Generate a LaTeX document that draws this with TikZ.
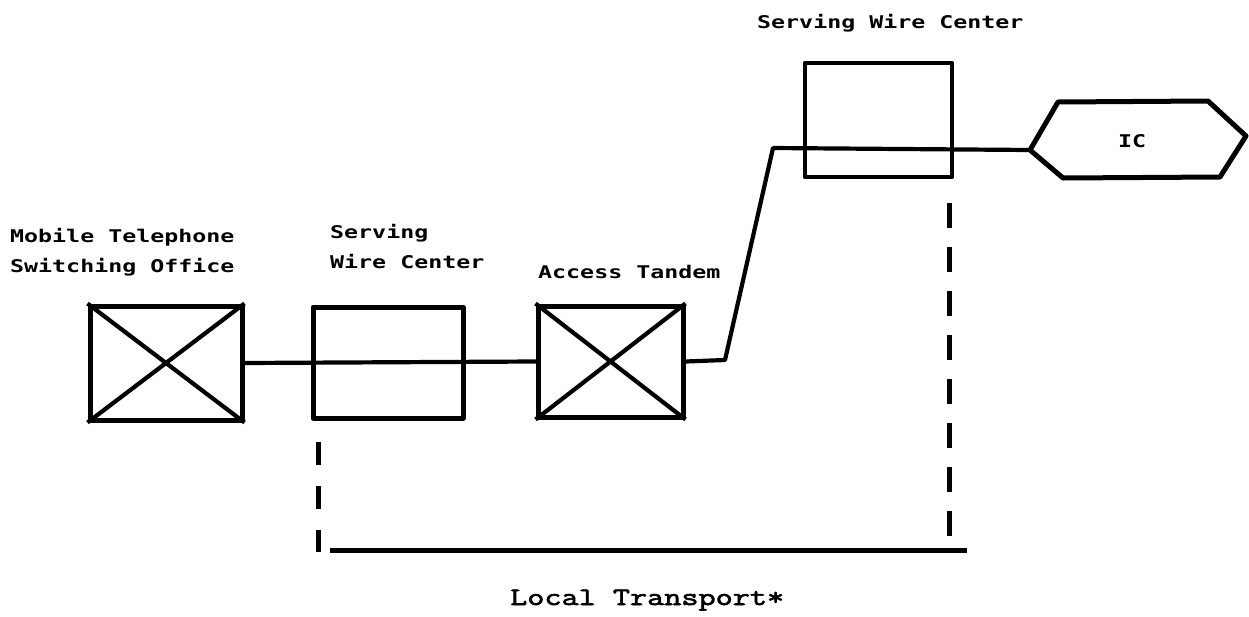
\documentclass[tikz,border=0pt]{standalone}
\usepackage{fontspec}
\newfontfamily\dotfont{DejaVu Sans Mono Bold}[FakeStretch=1.33]
\newfontfamily\typefont{Latin Modern Mono}[FakeBold=2.5,FakeStretch=1.33]
\begin{document}
\begin{tikzpicture}[x=1pt,y=-1pt,
  office/.style={draw,line width=5pt,rectangle,inner sep=0pt,line join=round},
  wire/.style={line width=4.2pt,line join=round,line cap=round},
  bound/.style={line width=5pt},
  lbl/.style={anchor=base west,inner sep=0pt,font=\dotfont\fontsize{17.5}{20}\selectfont},
  caption/.style={anchor=base west,inner sep=0pt,font=\typefont\fontsize{25}{30}\selectfont}]
\useasboundingbox (0,0) rectangle (1249,616);

% switching offices and wire centers
\node[office,minimum width=152pt,minimum height=114pt] (mtso) at (166,363) {};
\node[office,minimum width=150pt,minimum height=111pt] (swcA) at (388,362.5) {};
\node[office,minimum width=145pt,minimum height=111pt] (tandem) at (610.5,361.5) {};
\node[office,line width=4.2pt,minimum width=147pt,minimum height=114pt] (swcB) at (878.5,120) {};

% crosses marking the switches
\draw[line width=4.2pt] (mtso.north west) -- (mtso.south east)
                        (mtso.north east) -- (mtso.south west);
\draw[line width=4.2pt] (tandem.north west) -- (tandem.south east)
                        (tandem.north east) -- (tandem.south west);

% interexchange carrier
\coordinate (icL) at (1030,150);
\draw[line width=5pt,line join=round]
  (icL) -- (1058,102) -- (1208,101) -- (1246,136) -- (1220,177) -- (1063,178) -- cycle;
\node[font=\dotfont\fontsize{17.5}{20}\selectfont,inner sep=0pt] (ic) at (1132,141) {IC};

% transmission path
\coordinate (k1) at (725,360);
\coordinate (k2) at (773,148);
\draw[wire] (mtso.east) -- (tandem.west);
\draw[wire] (tandem.east) -- (k1) -- (k2) -- (icL);

% extent of local transport
\coordinate (dl1) at (318,442);
\coordinate (dl2) at (318,552);
\coordinate (dr1) at (949,203);
\coordinate (dr2) at (949,537);
\coordinate (b1) at (330,550);
\coordinate (b2) at (967,550);
\draw[bound,dash pattern=on 23pt off 21pt] (dl1) -- (dl2);
\draw[bound,dash pattern=on 25pt off 19pt] (dr1) -- (dr2);
\draw[bound] (b1) -- (b2);

% labels
\node[lbl] (t1a) at (10,242) {Mobile Telephone};
\node[lbl] (t1b) at (10,272) {Switching Office};
\node[lbl] (t2a) at (330,238) {Serving};
\node[lbl] (t2b) at (330,268) {Wire Center};
\node[lbl] (t3) at (538,278) {Access Tandem};
\node[lbl] (t4) at (757,28) {Serving Wire Center};
\node[caption] (lt) at (510,605) {Local Transport*};
\end{tikzpicture}
\end{document}
